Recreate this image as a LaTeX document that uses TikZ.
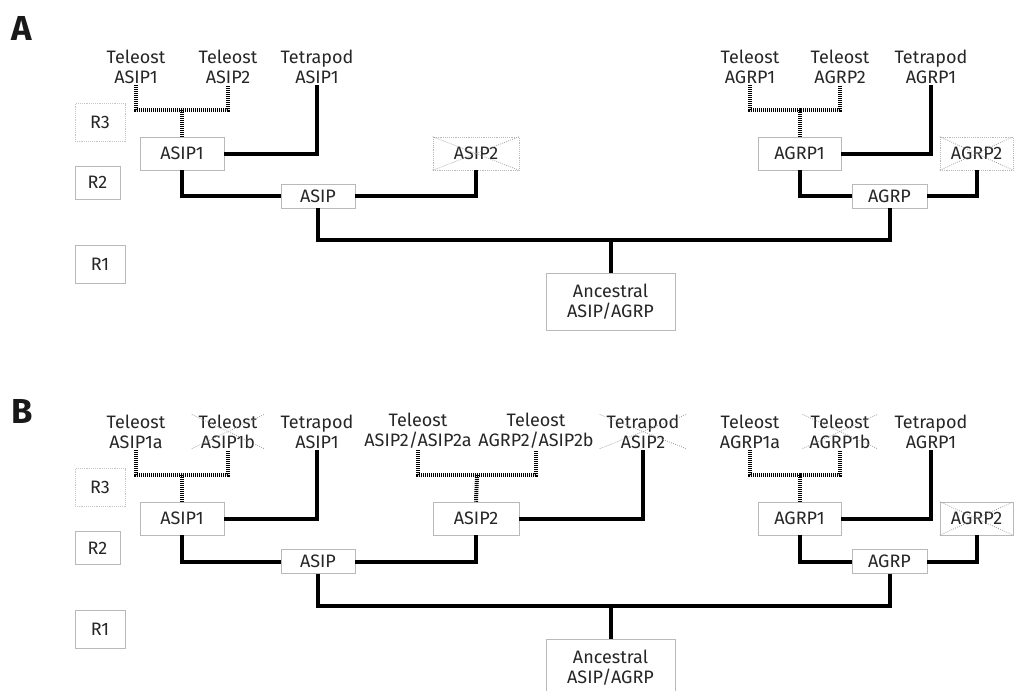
\documentclass[tikz,border=0pt]{standalone}
\usepackage{fontspec}
\setmainfont{Fira Sans}
\usetikzlibrary{positioning, calc}

\begin{document}
\begin{tikzpicture}[x=0.75pt, y=-0.75pt, font=\fontsize{13.5}{15}\selectfont]
        \tikzstyle{xline} = [draw=gray!75, densely dotted, line width=0.6pt]
        \tikzstyle{leaf} = [align=center, inner sep=1pt, anchor=south, text=black!85]
        \tikzstyle{lostleaf} = [leaf, append after command={([xshift=-4pt,yshift=-1pt]\tikzlastnode.north west) edge[xline] ([xshift=4pt,yshift=1pt]\tikzlastnode.south east) ([xshift=-4pt,yshift=1pt]\tikzlastnode.south west) edge[xline] ([xshift=4pt,yshift=-1pt]\tikzlastnode.north east)}]
        \tikzstyle{genebox} = [draw=gray!55, fill=white, minimum height=24.75pt, inner sep=2pt, text=black!85]
        \tikzstyle{lostbox} = [genebox, densely dotted, append after command={(\tikzlastnode.north west) edge[xline] (\tikzlastnode.south east) (\tikzlastnode.south west) edge[xline] (\tikzlastnode.north east)}]
        \tikzstyle{rootbox} = [genebox, minimum height=18pt]
        \tikzstyle{rbox} = [draw=gray!55, minimum width=37.5pt, minimum height=28.5pt, text=black!85]
        \tikzstyle{branch} = [line width=3pt]
        \tikzstyle{dup} = [line width=3pt, dash pattern=on 0.75pt off 0.75pt]
        \tikzstyle{panel} = [font=\fontsize{26}{28}\selectfont\bfseries, text=black!90]

        \useasboundingbox (0,0) rectangle (1014,690);

        % --- A: 两轮复制后丢失 ASIP2 / AGRP2 ---
        \node [panel] (labA) at (22,28) {A};
        \node [rbox, densely dotted, draw=gray!45] (r3A) at (100,122.5) {R3};
        \node [rbox, minimum width=34pt, minimum height=25pt] (r2A) at (97.5,182.5) {R2};
        \node [rbox] (r1A) at (100,264) {R1};

        \node [leaf] (tA1) at (136,85) {Teleost\\ASIP1};
        \node [leaf] (tA2) at (228,85) {Teleost\\ASIP2};
        \node [leaf] (tpA1) at (317,85) {Tetrapod\\ASIP1};
        \node [leaf] (tA3) at (750,85) {Teleost\\AGRP1};
        \node [leaf] (tA4) at (840,85) {Teleost\\AGRP2};
        \node [leaf] (tpA2) at (931,85) {Tetrapod\\AGRP1};

        \node [genebox, minimum width=63pt] (asip1A) at (182,153.5) {ASIP1};
        \node [lostbox, minimum width=64.5pt] (asip2A) at (476,153.5) {ASIP2};
        \node [rootbox, minimum width=55.5pt] (asipA) at (318,196) {ASIP};
        \node [genebox, minimum width=62.25pt] (agrp1A) at (799.5,153.5) {AGRP1};
        \node [lostbox, minimum width=54.75pt] (agrp2A) at (976.5,153.5) {AGRP2};
        \node [rootbox, minimum width=56pt] (agrpA) at (889.5,196) {AGRP};
        \node [genebox, minimum width=97pt, minimum height=43pt, align=center] (ancA) at (610.5,301.5) {Ancestral\\ASIP/AGRP};

        \coordinate (dA1) at (182,110);
        \coordinate (dA2) at (799.5,110);
        \coordinate (rA) at (610.5,240);

        \draw [dup] (tA1.south) |- (dA1) -| (tA2.south);
        \draw [dup] (dA1) -- (asip1A.north);
        \draw [branch] (tpA1.south) |- (asip1A.east);
        \draw [branch] (asip1A.south) |- (asipA.west);
        \draw [branch] (asipA.east) -| (asip2A.south);
        \draw [dup] (tA3.south) |- (dA2) -| (tA4.south);
        \draw [dup] (dA2) -- (agrp1A.north);
        \draw [branch] (tpA2.south) |- (agrp1A.east);
        \draw [branch] (agrp1A.south) |- (agrpA.west);
        \draw [branch] (agrpA.east) -| (agrp2A.south);
        \draw [branch] (asipA.south) |- (rA) -| (agrpA.south);
        \draw [branch] (rA) -- (ancA.north);

        % --- B: ASIP2 保留, 部分硬骨鱼拷贝丢失 ---
        \node [panel] (labB) at (22,411) {B};
        \node [rbox, densely dotted, draw=gray!45] (r3B) at (100,487.5) {R3};
        \node [rbox, minimum width=34pt, minimum height=25pt] (r2B) at (97.5,548) {R2};
        \node [rbox] (r1B) at (100,629) {R1};

        \node [leaf] (tB1) at (136,450) {Teleost\\ASIP1a};
        \node [lostleaf] (tB2) at (228,450) {Teleost\\ASIP1b};
        \node [leaf] (tpB1) at (317,450) {Tetrapod\\ASIP1};
        \node [leaf] (tB3) at (418,450) {Teleost\\ASIP2/ASIP2a};
        \node [leaf] (tB4) at (536,450) {Teleost\\AGRP2/ASIP2b};
        \node [lostleaf] (tpB2) at (643,450) {Tetrapod\\ASIP2};
        \node [leaf] (tB5) at (750,450) {Teleost\\AGRP1a};
        \node [lostleaf] (tB6) at (840,450) {Teleost\\AGRP1b};
        \node [leaf] (tpB3) at (931,450) {Tetrapod\\AGRP1};

        \node [genebox, minimum width=63pt] (asip1B) at (182,518.5) {ASIP1};
        \node [genebox, minimum width=64.5pt] (asip2B) at (476,518.5) {ASIP2};
        \node [rootbox, minimum width=55.5pt] (asipB) at (318,561.5) {ASIP};
        \node [genebox, minimum width=62.25pt] (agrp1B) at (799.5,518.5) {AGRP1};
        \node [lostbox, solid, minimum width=54.75pt] (agrp2B) at (976.5,518.5) {AGRP2};
        \node [rootbox, minimum width=56pt] (agrpB) at (889.5,561.5) {AGRP};
        \node [genebox, minimum width=97pt, minimum height=43pt, align=center] (ancB) at (610.5,667.5) {Ancestral\\ASIP/AGRP};

        \coordinate (dB1) at (182,475);
        \coordinate (dB2) at (477,475);
        \coordinate (dB3) at (799.5,475);
        \coordinate (rB) at (610.5,606);

        \draw [dup] (tB1.south) |- (dB1) -| (tB2.south);
        \draw [dup] (dB1) -- (asip1B.north);
        \draw [branch] (tpB1.south) |- (asip1B.east);
        \draw [dup] (tB3.south) |- (dB2) -| (tB4.south);
        \draw [dup] (dB2) -- (asip2B.north);
        \draw [branch] (tpB2.south) |- (asip2B.east);
        \draw [branch] (asip1B.south) |- (asipB.west);
        \draw [branch] (asipB.east) -| (asip2B.south);
        \draw [dup] (tB5.south) |- (dB3) -| (tB6.south);
        \draw [dup] (dB3) -- (agrp1B.north);
        \draw [branch] (tpB3.south) |- (agrp1B.east);
        \draw [branch] (agrp1B.south) |- (agrpB.west);
        \draw [branch] (agrpB.east) -| (agrp2B.south);
        \draw [branch] (asipB.south) |- (rB) -| (agrpB.south);
        \draw [branch] (rB) -- (ancB.north);

\end{tikzpicture}
\end{document}
